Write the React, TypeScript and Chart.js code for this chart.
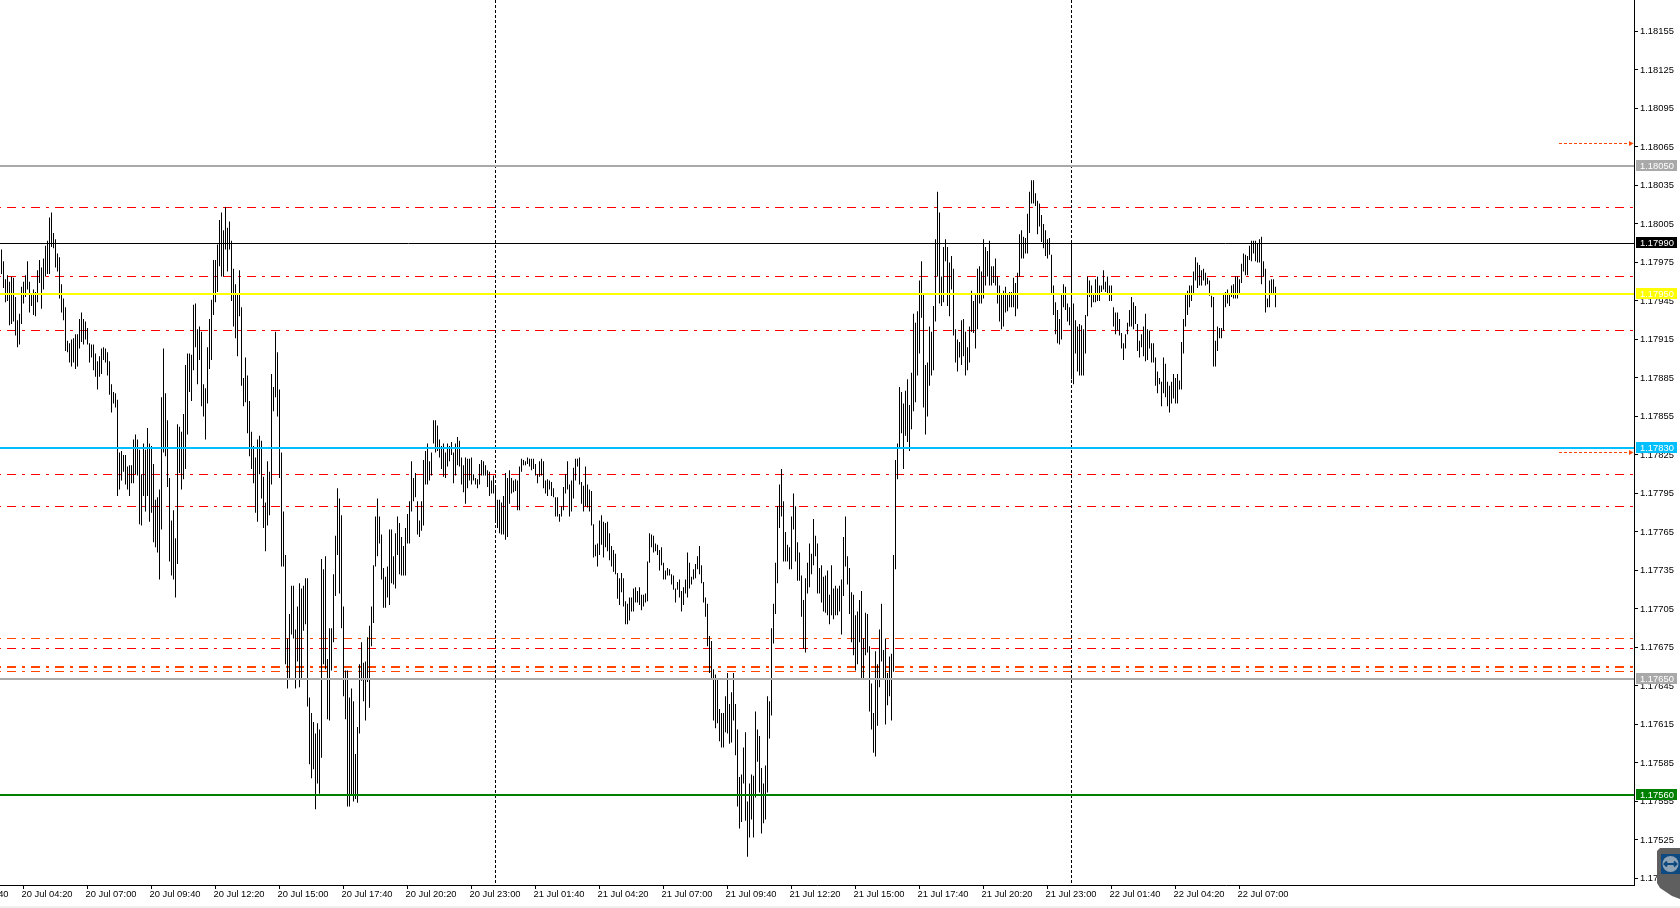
import React, { useEffect, useRef } from "react";
import { Chart, registerables } from "chart.js";

Chart.register(...registerables);

// Bar highs and lows, five-minute bars, in 0.00001 above 1.00000 (17985 = 1.17985)
const highs = [
  17985,17976,17962,17965,17960,17964,17963,17948,17930,17935,
  17956,17960,17965,17976,17960,17951,17954,17952,17969,17977,
  17971,17978,17988,17992,18010,18014,17998,17993,17982,17979,
  17958,17947,17940,17914,17912,17915,17916,17919,17919,17931,
  17936,17931,17929,17924,17912,17911,17911,17904,17898,17902,
  17908,17909,17908,17905,17898,17880,17874,17873,17868,17827,
  17828,17825,17825,17816,17817,17817,17837,17841,17837,17829,
  17810,17834,17829,17846,17834,17832,17818,17790,17792,17798,
  17870,17908,17873,17852,17807,17774,17782,17760,17849,17847,
  17843,17857,17895,17904,17904,17903,17942,17943,17923,17925,
  17921,17880,17877,17909,17931,17946,17977,17977,17989,18008,
  18014,18000,18018,18002,18007,17992,17970,17958,17950,17969,
  17940,17885,17901,17887,17867,17843,17832,17823,17837,17840,
  17836,17808,17788,17820,17812,17888,17878,17921,17905,17876,
  17827,17781,17747,17682,17701,17723,17723,17689,17707,17725,
  17721,17723,17729,17729,17636,17624,17617,17608,17616,17611,
  17744,17736,17746,17666,17690,17690,17732,17762,17799,17791,
  17778,17707,17657,17657,17636,17643,17633,17592,17613,17662,
  17679,17663,17664,17683,17692,17707,17739,17777,17791,17777,
  17763,17737,17730,17738,17767,17767,17746,17764,17777,17772,
  17761,17754,17768,17779,17789,17820,17807,17811,17789,17774,
  17789,17821,17828,17834,17820,17827,17852,17852,17848,17837,
  17832,17834,17827,17834,17832,17835,17827,17834,17839,17836,
  17823,17817,17823,17822,17822,17823,17810,17807,17806,17818,
  17821,17820,17817,17813,17812,17805,17809,17800,17790,17790,
  17788,17793,17811,17807,17813,17807,17805,17806,17805,17816,
  17822,17821,17820,17823,17822,17822,17822,17818,17810,17820,
  17822,17820,17805,17806,17805,17804,17799,17792,17792,17779,
  17785,17800,17810,17820,17802,17805,17815,17822,17822,17823,
  17804,17801,17816,17802,17798,17797,17771,17755,17756,17774,
  17778,17773,17772,17773,17764,17754,17751,17748,17733,17729,
  17733,17729,17711,17709,17714,17714,17721,17722,17719,17722,
  17716,17716,17717,17742,17764,17763,17762,17756,17755,17751,
  17753,17741,17735,17737,17736,17732,17731,17721,17726,17728,
  17719,17722,17728,17749,17741,17730,17736,17740,17746,17754,
  17739,17726,17714,17709,17684,17680,17658,17654,17650,17627,
  17624,17624,17637,17655,17631,17640,17655,17631,17611,17574,
  17576,17597,17609,17555,17569,17576,17575,17625,17611,17606,
  17581,17569,17583,17637,17633,17690,17709,17741,17785,17802,
  17814,17789,17765,17755,17753,17777,17795,17785,17757,17749,
  17731,17712,17729,17741,17756,17748,17775,17762,17756,17737,
  17739,17730,17731,17735,17716,17739,17721,17723,17721,17723,
  17728,17761,17777,17746,17737,17718,17716,17700,17703,17712,
  17719,17682,17702,17701,17676,17647,17624,17672,17662,17689,
  17709,17673,17682,17655,17668,17670,17747,17821,17834,17878,
  17874,17865,17875,17884,17864,17889,17935,17928,17937,17961,
  17976,17950,17895,17897,17925,17921,17941,17993,18030,18014,
  17964,17987,17993,17987,17975,17980,17970,17923,17915,17913,
  17930,17931,17921,17909,17925,17953,17945,17950,17970,17972,
  17968,17993,17987,17984,17992,17972,17972,17978,17964,17957,
  17951,17953,17956,17950,17952,17952,17963,17959,17967,17997,
  18000,17995,17994,18013,18030,18039,18039,18029,18023,18021,
  18012,18005,18000,17993,17994,17981,17957,17944,17938,17931,
  17951,17958,17956,17943,17940,17990,17943,17930,17925,17927,
  17926,17923,17934,17964,17961,17957,17951,17962,17964,17957,
  17957,17969,17960,17964,17957,17957,17940,17936,17936,17931,
  17920,17912,17919,17928,17938,17948,17944,17941,17927,17914,
  17919,17925,17935,17923,17922,17912,17912,17901,17890,17885,
  17882,17901,17896,17882,17879,17882,17888,17885,17888,17883,
  17913,17931,17950,17953,17957,17957,17968,17979,17975,17973,
  17969,17970,17967,17963,17961,17949,17948,17914,17925,17924,
  17924,17951,17952,17954,17950,17957,17958,17964,17964,17962,
  17974,17982,17981,17980,17988,17992,17992,17992,17990,17993,
  17995,17976,17970,17947,17961,17962,17962,17956,
];

const lows = [
  17966,17955,17944,17945,17926,17927,17929,17918,17909,17911,
  17927,17943,17948,17954,17936,17941,17934,17933,17944,17959,
  17939,17954,17964,17966,17966,17987,17986,17971,17968,17947,
  17936,17930,17906,17905,17897,17894,17897,17892,17894,17908,
  17913,17911,17915,17911,17897,17901,17891,17886,17876,17886,
  17888,17899,17897,17887,17872,17858,17865,17862,17793,17798,
  17805,17812,17802,17798,17793,17803,17803,17810,17809,17771,
  17770,17793,17781,17793,17773,17780,17757,17753,17749,17728,
  17767,17827,17824,17800,17742,17731,17728,17714,17740,17811,
  17798,17806,17814,17841,17874,17867,17891,17909,17880,17899,
  17863,17855,17837,17865,17892,17899,17934,17944,17952,17972,
  17964,17964,17985,17968,17985,17945,17925,17916,17902,17933,
  17879,17863,17866,17842,17824,17814,17803,17780,17773,17810,
  17791,17768,17750,17770,17778,17802,17859,17870,17855,17807,
  17738,17738,17662,17643,17651,17685,17682,17643,17664,17644,
  17651,17688,17693,17629,17584,17573,17580,17549,17569,17561,
  17589,17662,17658,17619,17618,17657,17679,17715,17747,17717,
  17690,17637,17619,17551,17551,17560,17555,17557,17554,17608,
  17649,17633,17618,17648,17628,17676,17694,17738,17746,17756,
  17728,17706,17706,17714,17708,17725,17724,17721,17747,17732,
  17731,17731,17731,17756,17756,17781,17789,17792,17763,17761,
  17766,17770,17802,17802,17805,17809,17834,17827,17828,17823,
  17814,17808,17807,17816,17820,17825,17803,17809,17817,17816,
  17802,17796,17787,17799,17805,17802,17805,17802,17799,17802,
  17809,17809,17809,17800,17793,17795,17795,17773,17768,17764,
  17763,17763,17759,17761,17787,17795,17796,17797,17782,17782,
  17812,17817,17817,17818,17816,17813,17814,17809,17803,17808,
  17809,17799,17795,17793,17798,17793,17792,17777,17777,17773,
  17777,17782,17795,17798,17777,17781,17791,17805,17816,17802,
  17787,17781,17785,17784,17781,17770,17745,17746,17738,17747,
  17755,17745,17753,17750,17743,17738,17734,17732,17713,17708,
  17718,17707,17693,17693,17696,17703,17703,17710,17710,17708,
  17704,17707,17710,17711,17741,17753,17749,17750,17747,17735,
  17739,17728,17728,17731,17731,17724,17720,17710,17720,17714,
  17703,17708,17717,17714,17721,17724,17728,17729,17736,17732,
  17725,17710,17699,17676,17655,17651,17618,17612,17616,17602,
  17597,17597,17609,17608,17600,17601,17618,17591,17551,17534,
  17539,17569,17540,17512,17527,17541,17527,17558,17586,17562,
  17530,17538,17541,17562,17604,17622,17678,17701,17725,17768,
  17777,17742,17742,17742,17736,17736,17767,17742,17727,17727,
  17699,17674,17671,17717,17722,17732,17739,17746,17717,17717,
  17710,17703,17702,17700,17693,17700,17697,17700,17700,17703,
  17685,17715,17738,17724,17701,17679,17669,17657,17662,17679,
  17651,17651,17669,17671,17625,17611,17593,17590,17614,17644,
  17664,17650,17615,17630,17637,17618,17656,17736,17806,17830,
  17842,17814,17840,17835,17828,17845,17859,17866,17887,17904,
  17932,17862,17841,17855,17879,17887,17891,17929,17964,17943,
  17941,17944,17976,17941,17933,17954,17918,17897,17890,17901,
  17895,17902,17887,17891,17897,17921,17920,17908,17923,17943,
  17943,17947,17957,17964,17957,17957,17959,17957,17943,17929,
  17923,17925,17936,17937,17940,17940,17940,17933,17939,17964,
  17978,17978,17982,17982,17998,18021,18021,18019,17997,18003,
  17991,17986,17980,17978,17981,17950,17934,17919,17912,17911,
  17915,17940,17938,17929,17926,17884,17880,17904,17890,17887,
  17887,17887,17904,17933,17948,17940,17944,17944,17945,17945,
  17952,17954,17952,17950,17945,17945,17925,17919,17922,17918,
  17908,17899,17908,17919,17925,17925,17923,17927,17906,17901,
  17909,17902,17898,17899,17908,17897,17897,17879,17873,17880,
  17863,17873,17870,17863,17858,17865,17869,17865,17865,17876,
  17876,17904,17925,17934,17940,17945,17951,17961,17955,17957,
  17957,17961,17957,17958,17949,17940,17894,17894,17906,17916,
  17916,17922,17940,17943,17941,17948,17947,17947,17947,17950,
  17959,17968,17965,17965,17977,17976,17982,17976,17975,17975,
  17958,17964,17936,17940,17940,17950,17950,17940,
];

const priceTicks = [
  1.18155, 1.18125, 1.18095, 1.18065, 1.18035, 1.18005, 1.17975, 1.17945, 1.17915, 1.17885, 1.17855, 1.17825,
  1.17795, 1.17765, 1.17735, 1.17705, 1.17675, 1.17645, 1.17615, 1.17585, 1.17555, 1.17525, 1.17495,
];
const timeTickBars = [-21, 11, 43, 75, 107, 139, 171, 203, 235, 267, 299, 331, 363, 395, 427, 459, 491, 523, 555, 587, 619];
const timeTickLabels = [
  "20 Jul 01:40", "20 Jul 04:20", "20 Jul 07:00", "20 Jul 09:40", "20 Jul 12:20", "20 Jul 15:00", "20 Jul 17:40",
  "20 Jul 20:20", "20 Jul 23:00", "21 Jul 01:40", "21 Jul 04:20", "21 Jul 07:00", "21 Jul 09:40", "21 Jul 12:20",
  "21 Jul 15:00", "21 Jul 17:40", "21 Jul 20:20", "21 Jul 23:00", "22 Jul 01:40", "22 Jul 04:20", "22 Jul 07:00",
];
const daySeparatorBars = [247, 535];
const redLevels = [1.18018, 1.17964, 1.17922, 1.1781, 1.17785, 1.17674];
const orangeLevels = [1.17682, 1.1766, 1.17659, 1.17656];
const taggedLevels = [1.1805, 1.1799, 1.1795, 1.1783, 1.1765, 1.1756];
const taggedColors = ["#a9a9a9", "#000000", "#ffff00", "#00bfff", "#a9a9a9", "#008000"];
const taggedWidths = [2, 1, 2, 2, 2, 2];
const arrowPrices = [1.18068, 1.17827];

const PLOT_LEFT_BAR = -0.75;
const PLOT_RIGHT_BAR = 816.25;
const PLOT_TOP_PRICE = 1.181795;
const PLOT_BOTTOM_PRICE = 1.174899;
const ARROW_START_BAR = 778.75;
const ARROW_END_BAR = 814.5;
const FONT = '"Liberation Sans", Arial, sans-serif';
const FONT_SIZE = 9.4;

const crispLines = {
  id: "crispLines",
  afterDatasetsUpdate(chart: any) {
    chart.data.datasets.forEach((ds: any, i: number) => {
      if (!ds.snapY) return;
      const meta = chart.getDatasetMeta(i);
      const odd = ds.borderWidth % 2 === 1;
      meta.data.forEach((pt: any) => {
        pt.y = odd ? Math.floor(pt.y) + 0.5 : Math.floor(pt.y);
      });
    });
  },
};

const overlay = {
  id: "overlay",
  afterDraw(chart: any) {
    const { ctx } = chart;
    const yScale = chart.scales.y;
    ctx.save();
    ctx.font = `${FONT_SIZE}px ${FONT}`;
    ctx.textBaseline = "middle";
    ctx.textAlign = "left";
    taggedLevels.forEach((p, i) => {
      const y = Math.floor(yScale.getPixelForValue(p));
      ctx.fillStyle = taggedColors[i];
      ctx.fillRect(1636, y - 6, 41, 11);
      ctx.fillStyle = "#ffffff";
      ctx.fillText(p.toFixed(5), 1640, y);
    });
    // docked remote-control tab, bottom right
    ctx.fillStyle = "#5f5f5f";
    ctx.beginPath();
    ctx.moveTo(1660, 848);
    ctx.lineTo(1680, 848);
    ctx.lineTo(1680, 899);
    ctx.lineTo(1672, 896);
    ctx.lineTo(1660, 888);
    ctx.lineTo(1657, 883);
    ctx.lineTo(1657, 851);
    ctx.closePath();
    ctx.fill();
    ctx.fillStyle = "#0e4a80";
    ctx.fillRect(1661, 854, 19, 20);
    ctx.fillStyle = "#8fa3b5";
    ctx.beginPath();
    ctx.arc(1670.5, 864, 8, 0, Math.PI * 2);
    ctx.fill();
    ctx.strokeStyle = "#0e4a80";
    ctx.lineWidth = 2;
    ctx.beginPath();
    ctx.moveTo(1665, 864);
    ctx.lineTo(1676, 864);
    ctx.moveTo(1667, 861.5);
    ctx.lineTo(1664.5, 864);
    ctx.lineTo(1667, 866.5);
    ctx.moveTo(1674, 861.5);
    ctx.lineTo(1676.5, 864);
    ctx.lineTo(1674, 866.5);
    ctx.stroke();
    // window edge below the time axis
    ctx.fillStyle = "#f0f0f0";
    ctx.fillRect(0, 906, 1680, 2);
    ctx.restore();
  },
};

export default function App() {
  const ref = useRef<HTMLCanvasElement | null>(null);

  useEffect(() => {
    if (!ref.current) return;
    const levelLine = (price: number, color: string, width: number, dash: number[], order: number) => ({
      type: "line" as const,
      data: [
        { x: PLOT_LEFT_BAR, y: price },
        { x: PLOT_RIGHT_BAR, y: price },
      ],
      borderColor: color,
      borderWidth: width,
      borderDash: dash,
      borderDashOffset: 17,
      pointRadius: 0,
      fill: false,
      tension: 0,
      order,
      snapY: true,
    });
    const DASH_DOT = [9, 6, 3, 6];

    const datasets: any[] = [
      {
        type: "bar",
        data: highs.map((h, i) => ({ x: i, y: [1 + lows[i] * 1e-5, 1 + h * 1e-5] })),
        backgroundColor: "#000000",
        borderWidth: 0,
        inflateAmount: 0,
        barThickness: 1,
        grouped: false,
        order: 5,
      },
      ...redLevels.map((p) => levelLine(p, "#ff0000", 1, DASH_DOT, 8)),
      ...orangeLevels.map((p) => levelLine(p, "#ff4500", 1, DASH_DOT, 8)),
      ...taggedLevels.map((p, i) => levelLine(p, taggedColors[i], taggedWidths[i], [], 1)),
      ...daySeparatorBars.map((b) => ({
        type: "line" as const,
        data: [
          { x: b, y: PLOT_TOP_PRICE },
          { x: b, y: PLOT_BOTTOM_PRICE },
        ],
        borderColor: "#000000",
        borderWidth: 1,
        borderDash: [3, 2],
        pointRadius: 0,
        order: 2,
      })),
      ...arrowPrices.map((p) => ({
        type: "line" as const,
        data: [
          { x: ARROW_START_BAR, y: p },
          { x: ARROW_END_BAR, y: p },
        ],
        borderColor: "#ff4500",
        backgroundColor: "#ff4500",
        borderWidth: 1,
        borderDash: [3, 2],
        pointStyle: "triangle",
        pointRotation: 90,
        pointRadius: [0, 3],
        pointBorderWidth: 0,
        order: 2,
        snapY: true,
      })),
    ];

    const chart = new Chart(ref.current, {
      type: "bar",
      data: { datasets },
      plugins: [crispLines, overlay],
      options: {
        responsive: false,
        animation: false,
        devicePixelRatio: 1,
        events: [],
        layout: { padding: 0, autoPadding: false },
        plugins: { legend: { display: false }, tooltip: { enabled: false }, title: { display: false } },
        scales: {
          x: {
            type: "linear",
            min: PLOT_LEFT_BAR,
            max: PLOT_RIGHT_BAR,
            offset: false,
            grid: { display: true, drawOnChartArea: false, drawTicks: true, tickLength: 4, tickColor: "#000000", offset: false },
            border: { display: true, color: "#000000", width: 1 },
            ticks: {
              autoSkip: false,
              maxRotation: 0,
              minRotation: 0,
              align: "start",
              padding: 0,
              labelOffset: -2,
              color: "#000000",
              font: { family: FONT, size: FONT_SIZE },
              callback: (_v: any, i: number) => timeTickLabels[i],
            },
            afterBuildTicks: (s: any) => {
              s.ticks = timeTickBars.map((value) => ({ value }));
            },
            afterFit: (s: any) => {
              s.height = 23;
              s.paddingLeft = 0;
              s.paddingRight = 0;
            },
          },
          y: {
            type: "linear",
            position: "right",
            min: PLOT_BOTTOM_PRICE,
            max: PLOT_TOP_PRICE,
            grid: { display: true, drawOnChartArea: false, drawTicks: true, tickLength: 4, tickColor: "#000000" },
            border: { display: true, color: "#000000", width: 1 },
            ticks: {
              autoSkip: false,
              padding: 2,
              color: "#000000",
              font: { family: FONT, size: FONT_SIZE },
              callback: (v: any) => Number(v).toFixed(5),
            },
            afterBuildTicks: (s: any) => {
              s.ticks = priceTicks.map((value) => ({ value }));
            },
            afterFit: (s: any) => {
              s.width = 46;
              s.paddingTop = 0;
              s.paddingBottom = 0;
            },
          },
        },
      } as any,
    } as any);
    return () => chart.destroy();
  }, []);

  return (
    <div style={{ position: "fixed", left: 0, top: 0, width: 1680, height: 908, background: "#ffffff", overflow: "hidden" }}>
      <canvas ref={ref} width={1680} height={908} style={{ display: "block", width: 1680, height: 908 }} />
    </div>
  );
}
